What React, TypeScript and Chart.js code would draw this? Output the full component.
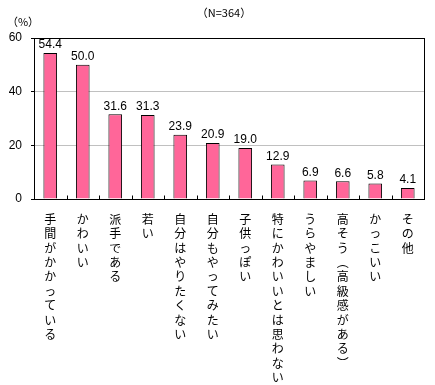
import React, { useEffect, useRef } from "react";
import { Chart, registerables } from "chart.js";

Chart.register(...registerables);

const categories = [
  "手間がかかっている",
  "かわいい",
  "派手である",
  "若い",
  "自分はやりたくない",
  "自分もやってみたい",
  "子供っぽい",
  "特にかわいいとは思わない",
  "うらやましい",
  "高そう（高級感がある）",
  "かっこいい",
  "その他",
];
const values = [54.4, 50.0, 31.6, 31.3, 23.9, 20.9, 19.0, 12.9, 6.9, 6.6, 5.8, 4.1];
const yMin = 0;
const yMax = 60;
const yStep = 20;
const titleText = "（N=364）";
const unitText = "（%）";

const barColor = "#FF6699";
const numFont = "'Liberation Sans', Arial, sans-serif";
const jpFont = "'Noto Sans CJK JP', sans-serif";

function toVertical(s: string): string[] {
  return Array.from(s.replace("（", "︵").replace("）", "︶"));
}

const decorPlugin = {
  id: "decor",
  afterDatasetsDraw(chart: any) {
    const { ctx, chartArea } = chart;
    const xs = chart.scales.x;
    const meta = chart.getDatasetMeta(0);
    ctx.save();
    // value labels
    ctx.fillStyle = "#000";
    ctx.font = `12px ${numFont}`;
    ctx.textAlign = "center";
    ctx.textBaseline = "bottom";
    meta.data.forEach((bar: any, i: number) => {
      ctx.fillText(values[i].toFixed(1), bar.x, bar.y - 2);
    });
    // frame
    ctx.strokeStyle = "#000";
    ctx.lineWidth = 1;
    ctx.strokeRect(
      Math.round(chartArea.left) + 0.5,
      Math.round(chartArea.top) + 0.5,
      Math.round(chartArea.right - chartArea.left),
      Math.round(chartArea.bottom - chartArea.top)
    );
    // inner category ticks
    const b = Math.round(chartArea.bottom) + 0.5;
    for (let i = 1; i < categories.length; i++) {
      const x = Math.round((xs.getPixelForValue(i - 1) + xs.getPixelForValue(i)) / 2) + 0.5;
      ctx.beginPath();
      ctx.moveTo(x, b);
      ctx.lineTo(x, b - 4);
      ctx.stroke();
    }
    // title and unit
    ctx.font = `11px ${jpFont}`;
    ctx.textBaseline = "middle";
    ctx.textAlign = "center";
    ctx.fillText(titleText, (chartArea.left + chartArea.right) / 2 - 5, 13);
    ctx.fillText(unitText, chartArea.left - 11, 22);
    ctx.restore();
  },
};

export default function App() {
  const ref = useRef<HTMLCanvasElement | null>(null);
  useEffect(() => {
    if (!ref.current) return;
    const chart = new Chart(ref.current, {
      type: "bar",
      data: {
        labels: categories.map(toVertical),
        datasets: [
          {
            data: values,
            backgroundColor: barColor,
            borderColor: "#000",
            borderWidth: 1,
            barPercentage: 0.42,
            categoryPercentage: 1,
          },
        ],
      },
      options: {
        animation: false,
        responsive: true,
        maintainAspectRatio: false,
        layout: { padding: { top: 38, right: 11, left: 0, bottom: 0 } },
        plugins: {
          legend: { display: false },
          tooltip: { enabled: false },
          title: { display: false },
        },
        scales: {
          x: {
            grid: { display: false, drawTicks: false },
            border: { display: false },
            ticks: {
              autoSkip: false,
              maxRotation: 0,
              minRotation: 0,
              padding: 13,
              color: "#000",
              font: { family: jpFont, size: 12, lineHeight: "14.4px" } as any,
            },
            afterFit(scale: any) {
              scale.height = 186;
            },
          },
          y: {
            min: yMin,
            max: yMax,
            ticks: {
              stepSize: yStep,
              color: "#000",
              padding: 9,
              font: { family: numFont, size: 12 },
            },
            grid: {
              color: (c: any) =>
                c.tick && (c.tick.value === yMin || c.tick.value === yMax) ? "rgba(0,0,0,0)" : "#C0C0C0",
              tickColor: "#000",
              tickLength: 3,
              drawTicks: true,
            },
            border: { display: false },
            afterFit(scale: any) {
              scale.width = 34;
            },
          },
        },
      },
      plugins: [decorPlugin],
    });
    return () => chart.destroy();
  }, []);
  return (
    <div style={{ position: "absolute", left: 0, top: 0, width: 435, height: 385, background: "#fff" }}>
      <canvas ref={ref} />
    </div>
  );
}
